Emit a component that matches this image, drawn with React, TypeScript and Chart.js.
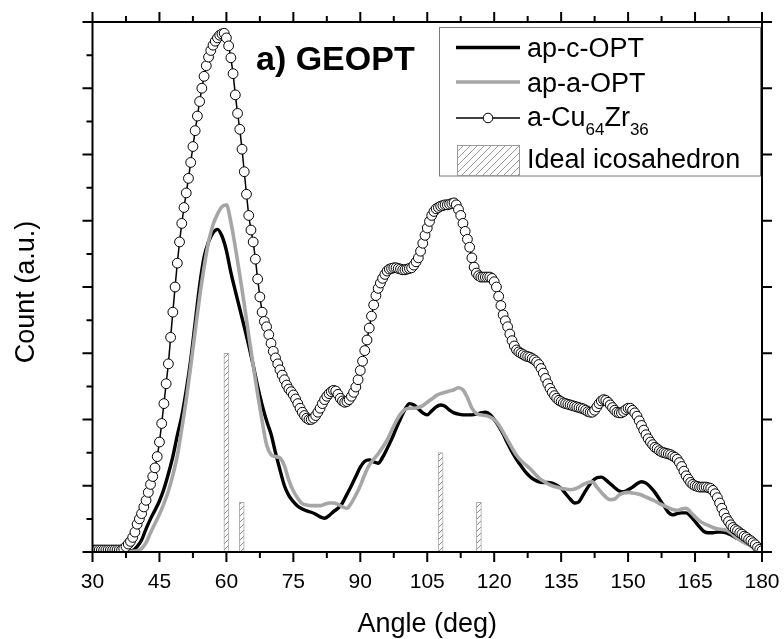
import React, { useEffect, useRef } from "react";
import { Chart, registerables } from "chart.js";

Chart.register(...registerables);

// ---------- data ----------
const ANGLE_START = 30;
const CIRCLE_STEP = 0.5; // a-Cu64Zr36 sampled every 0.5 deg
const LINE_STEP = 1; // ap-c-OPT / ap-a-OPT sampled every 1 deg

const CU64ZR36 = [
  0.03, 0.03, 0.03, 0.03, 0.03, 0.03, 0.03, 0.03, 0.03, 0.03,
  0.03, 0.03, 0.03, 0.03, 0.05, 0.08, 0.12, 0.16, 0.22, 0.30,
  0.42, 0.50, 0.58, 0.68, 0.78, 0.90, 1.02, 1.14, 1.27, 1.44,
  1.66, 1.94, 2.24, 2.54, 2.84, 3.24, 3.62, 4.00, 4.36, 4.68,
  4.96, 5.20, 5.42, 5.64, 5.88, 6.12, 6.36, 6.58, 6.80, 7.00,
  7.18, 7.34, 7.47, 7.57, 7.65, 7.71, 7.76, 7.80, 7.82, 7.83,
  7.76, 7.64, 7.46, 7.22, 6.90, 6.62, 6.38, 6.08, 5.74, 5.40,
  5.08, 4.86, 4.68, 4.42, 4.12, 3.85, 3.62, 3.48, 3.40, 3.28,
  3.15, 3.03, 2.93, 2.84, 2.75, 2.67, 2.60, 2.52, 2.46, 2.42,
  2.37, 2.31, 2.24, 2.17, 2.11, 2.06, 2.02, 2.00, 2.00, 2.02,
  2.06, 2.11, 2.17, 2.24, 2.30, 2.35, 2.39, 2.42, 2.44, 2.43,
  2.38, 2.32, 2.28, 2.26, 2.27, 2.30, 2.35, 2.41, 2.49, 2.60,
  2.74, 2.88, 3.04, 3.20, 3.38, 3.56, 3.73, 3.87, 3.98, 4.06,
  4.13, 4.19, 4.24, 4.27, 4.28, 4.29, 4.29, 4.28, 4.27, 4.26,
  4.26, 4.27, 4.28, 4.29, 4.33, 4.38, 4.44, 4.54, 4.66, 4.78,
  4.89, 4.99, 5.08, 5.14, 5.18, 5.20, 5.22, 5.23, 5.24, 5.24,
  5.25, 5.26, 5.27, 5.24, 5.17, 5.08, 4.96, 4.84, 4.72, 4.60,
  4.44, 4.30, 4.21, 4.17, 4.15, 4.15, 4.15, 4.15, 4.15, 4.13,
  4.08, 4.00, 3.86, 3.72, 3.58, 3.49, 3.40, 3.29, 3.19, 3.11,
  3.05, 3.02, 3.00, 2.98, 2.96, 2.95, 2.94, 2.92, 2.90, 2.87,
  2.83, 2.77, 2.70, 2.62, 2.54, 2.47, 2.41, 2.36, 2.32, 2.29,
  2.27, 2.25, 2.24, 2.23, 2.22, 2.21, 2.20, 2.19, 2.18, 2.17,
  2.16, 2.14, 2.12, 2.11, 2.11, 2.14, 2.19, 2.24, 2.28, 2.30,
  2.29, 2.26, 2.22, 2.18, 2.14, 2.11, 2.10, 2.10, 2.12, 2.15,
  2.17, 2.17, 2.14, 2.10, 2.05, 1.98, 1.91, 1.84, 1.77, 1.71,
  1.66, 1.62, 1.58, 1.56, 1.53, 1.51, 1.50, 1.49, 1.48, 1.47,
  1.45, 1.43, 1.40, 1.35, 1.29, 1.22, 1.15, 1.10, 1.05, 1.02,
  1.00, 0.99, 0.98, 0.98, 0.98, 0.98, 0.97, 0.96, 0.93, 0.88,
  0.82, 0.74, 0.66, 0.58, 0.51, 0.46, 0.41, 0.37, 0.34, 0.32,
  0.29, 0.27, 0.24, 0.22, 0.19, 0.17, 0.14, 0.11, 0.07, 0.04,
  0.02,
];

const AP_C_OPT = [
  0, 0, 0, 0, 0, 0, 0, 0, 0.01, 0.02,
  0.08, 0.18, 0.35, 0.50, 0.63, 0.77, 0.95, 1.18, 1.44, 1.76,
  2.05, 2.44, 2.90, 3.46, 4.02, 4.45, 4.68, 4.82, 4.87, 4.77,
  4.55, 4.22, 3.94, 3.67, 3.40, 3.12, 2.82, 2.50, 2.22, 1.98,
  1.78, 1.50, 1.24, 1.00, 0.85, 0.76, 0.69, 0.65, 0.62, 0.60,
  0.57, 0.53, 0.51, 0.55, 0.61, 0.66, 0.74, 0.87, 1.00, 1.14,
  1.28, 1.37, 1.39, 1.36, 1.34, 1.43, 1.56, 1.70, 1.86, 2.01,
  2.15, 2.24, 2.22, 2.16, 2.10, 2.07, 2.13, 2.19, 2.22, 2.20,
  2.14, 2.10, 2.08, 2.07, 2.07, 2.07, 2.08, 2.10, 2.11, 2.08,
  2.00, 1.90, 1.78, 1.64, 1.51, 1.40, 1.30, 1.21, 1.14, 1.09,
  1.06, 1.05, 1.05, 1.04, 1.01, 0.96, 0.88, 0.80, 0.74, 0.76,
  0.87, 0.98, 1.07, 1.12, 1.13, 1.09, 1.03, 0.97, 0.92, 0.91,
  0.94, 0.98, 1.03, 1.06, 1.04, 0.98, 0.90, 0.80, 0.70, 0.60,
  0.56, 0.58, 0.59, 0.59, 0.54, 0.46, 0.38, 0.31, 0.29, 0.29,
  0.30, 0.30, 0.29, 0.26, 0.22, 0.19, 0.16, 0.13, 0.10, 0.05,
  0.01,
];

const AP_A_OPT = [
  0, 0, 0, 0, 0, 0, 0, 0, 0, 0.01,
  0.02, 0.05, 0.14, 0.29, 0.43, 0.57, 0.73, 0.92, 1.16, 1.45,
  1.86, 2.30, 2.80, 3.33, 3.85, 4.30, 4.68, 4.94, 5.10, 5.21,
  5.24, 4.98, 4.60, 4.18, 3.74, 3.27, 2.82, 2.38, 1.98, 1.62,
  1.47, 1.44, 1.42, 1.30, 1.08, 0.92, 0.81, 0.73, 0.71, 0.70,
  0.70, 0.70, 0.72, 0.74, 0.74, 0.72, 0.68, 0.66, 0.74, 0.86,
  1.00, 1.17, 1.31, 1.40, 1.48, 1.58, 1.69, 1.83, 1.97, 2.08,
  2.15, 2.17, 2.17, 2.18, 2.21, 2.26, 2.31, 2.36, 2.39, 2.41,
  2.43, 2.45, 2.48, 2.45, 2.33, 2.17, 2.09, 2.07, 2.06, 2.04,
  2.00, 1.92, 1.81, 1.69, 1.57, 1.46, 1.38, 1.32, 1.26, 1.19,
  1.12, 1.07, 1.03, 1.00, 0.98, 0.96, 0.95, 0.94, 0.95, 0.98,
  1.02, 1.05, 1.06, 0.98, 0.90, 0.83, 0.79, 0.80, 0.86, 0.89,
  0.90, 0.89, 0.88, 0.86, 0.83, 0.80, 0.77, 0.73, 0.70, 0.67,
  0.64, 0.63, 0.65, 0.66, 0.60, 0.53, 0.47, 0.43, 0.40, 0.37,
  0.35, 0.34, 0.33, 0.29, 0.23, 0.18, 0.14, 0.11, 0.07, 0.04,
  0.01,
];

const ICO_ANGLES = [60, 63.43, 108, 116.57];
const ICO_COUNTS = [3.0, 0.75, 1.5, 0.75];

const X_TICKS = [30, 45, 60, 75, 90, 105, 120, 135, 150, 165, 180];
const X_MIN = 30;
const X_MAX = 180;
const Y_MIN = 0;
const Y_MAX = 8;

const X_TITLE = "Angle (deg)";
const Y_TITLE = "Count (a.u.)";
const PANEL_TITLE = "a) GEOPT";
const LEGEND_1 = "ap-c-OPT";
const LEGEND_2 = "ap-a-OPT";
const LEGEND_3 = [
  { t: "a-Cu", sub: false },
  { t: "64", sub: true },
  { t: "Zr", sub: false },
  { t: "36", sub: true },
];
const LEGEND_4 = "Ideal icosahedron";

// ---------- styling ----------
const FONT = '"Liberation Sans", Arial, Helvetica, sans-serif';
const GRAY = "#a6a6a6";

function toPoints(values: number[], start: number, step: number) {
  return values.map((v, i) => ({ x: start + i * step, y: v }));
}

function makeHatch(size: number, color: string, bg: string) {
  const c = document.createElement("canvas");
  c.width = size;
  c.height = size;
  const g = c.getContext("2d") as CanvasRenderingContext2D;
  g.fillStyle = bg;
  g.fillRect(0, 0, size, size);
  g.strokeStyle = color;
  g.lineWidth = 1;
  g.beginPath();
  g.moveTo(0, size);
  g.lineTo(size, 0);
  g.moveTo(-1, 1);
  g.lineTo(1, -1);
  g.moveTo(size - 1, size + 1);
  g.lineTo(size + 1, size - 1);
  g.stroke();
  return g.createPattern(c, "repeat") as CanvasPattern;
}

const framePlugin = {
  id: "frame",
  afterDatasetsDraw(chart: any) {
    const { ctx, chartArea: a } = chart;
    const xs = chart.scales.x;
    const ys = chart.scales.y;
    ctx.save();
    ctx.strokeStyle = "#000";
    ctx.lineWidth = 2;
    ctx.strokeRect(a.left, a.top, a.right - a.left, a.bottom - a.top);
    ctx.beginPath();
    for (let v = X_MIN; v <= X_MAX + 1e-6; v += 7.5) {
      const px = xs.getPixelForValue(v);
      const major = Math.abs(((v - X_MIN) / 15) - Math.round((v - X_MIN) / 15)) < 1e-6;
      const len = major ? 10 : 6;
      ctx.moveTo(px, a.bottom);
      ctx.lineTo(px, a.bottom + len);
      ctx.moveTo(px, a.top);
      ctx.lineTo(px, a.top - len);
    }
    for (let v = Y_MIN; v <= Y_MAX + 1e-6; v += 0.5) {
      const py = ys.getPixelForValue(v);
      const major = Math.abs(v - Math.round(v)) < 1e-6;
      ctx.moveTo(a.left, py);
      ctx.lineTo(a.left - (major ? 10 : 6), py);
      if (major) {
        ctx.moveTo(a.right, py);
        ctx.lineTo(a.right + 10, py);
      }
    }
    ctx.stroke();
    ctx.restore();
  },
};

const textPlugin = {
  id: "texts",
  afterDraw(chart: any) {
    const { ctx, chartArea: a } = chart;
    ctx.save();
    ctx.fillStyle = "#000";

    // axis titles
    ctx.font = `27px ${FONT}`;
    ctx.textAlign = "center";
    ctx.textBaseline = "alphabetic";
    ctx.fillText(X_TITLE, (a.left + a.right) / 2, 632);
    ctx.save();
    ctx.translate(34, 292);
    ctx.rotate(-Math.PI / 2);
    ctx.fillText(Y_TITLE, 0, 0);
    ctx.restore();

    // panel title
    ctx.font = `bold 34px ${FONT}`;
    ctx.textAlign = "left";
    ctx.fillText(PANEL_TITLE, 256, 70);

    // legend box
    const bx = 439.5, by = 27.5, bw = 321, bh = 148.5;
    ctx.fillStyle = "#fff";
    ctx.fillRect(bx, by, bw, bh);
    ctx.strokeStyle = "#7a7a7a";
    ctx.lineWidth = 1;
    ctx.strokeRect(bx, by, bw, bh);

    const sx0 = 456, sx1 = 520, tx = 527;
    // row 1
    ctx.strokeStyle = "#000";
    ctx.lineWidth = 3.4;
    ctx.beginPath();
    ctx.moveTo(sx0, 47.5);
    ctx.lineTo(sx1, 47.5);
    ctx.stroke();
    // row 2
    ctx.strokeStyle = GRAY;
    ctx.lineWidth = 3.6;
    ctx.beginPath();
    ctx.moveTo(sx0, 82);
    ctx.lineTo(sx1, 82);
    ctx.stroke();
    // row 3
    ctx.strokeStyle = "#000";
    ctx.lineWidth = 1.5;
    ctx.beginPath();
    ctx.moveTo(sx0, 118);
    ctx.lineTo(sx1, 118);
    ctx.stroke();
    ctx.fillStyle = "#fff";
    ctx.lineWidth = 1;
    ctx.beginPath();
    ctx.arc(488, 118, 4.8, 0, Math.PI * 2);
    ctx.fill();
    ctx.stroke();
    // row 4 hatch box
    ctx.fillStyle = makeHatch(7, "#9a9a9a", "#fff");
    ctx.fillRect(457.5, 145.5, 62, 30);
    ctx.strokeStyle = "#9a9a9a";
    ctx.strokeRect(457.5, 145.5, 62, 30);

    ctx.fillStyle = "#000";
    ctx.textAlign = "left";
    ctx.font = `27px ${FONT}`;
    ctx.fillText(LEGEND_1, tx, 57);
    ctx.fillText(LEGEND_2, tx, 92);
    let x = tx;
    for (const part of LEGEND_3) {
      if (part.sub) {
        ctx.font = `17px ${FONT}`;
        ctx.fillText(part.t, x, 135);
      } else {
        ctx.font = `27px ${FONT}`;
        ctx.fillText(part.t, x, 126);
      }
      x += ctx.measureText(part.t).width;
    }
    ctx.font = `27px ${FONT}`;
    ctx.fillText(LEGEND_4, tx, 168);
    ctx.restore();
  },
};

export default function App() {
  const ref = useRef<HTMLCanvasElement | null>(null);

  useEffect(() => {
    const canvas = ref.current;
    if (!canvas) return;
    const barPattern = makeHatch(6, "#8f8f8f", "#fff");

    const chart = new Chart(canvas, {
      type: "line",
      data: {
        datasets: [
          {
            type: "line",
            label: "a-Cu64Zr36",
            data: toPoints(CU64ZR36, ANGLE_START, CIRCLE_STEP),
            borderColor: "#000",
            borderWidth: 1.5,
            pointRadius: 4.9,
            pointBorderWidth: 1,
            pointBorderColor: "#000",
            pointBackgroundColor: "#fff",
            tension: 0,
            order: 0,
          },
          {
            type: "line",
            label: "ap-a-OPT",
            data: toPoints(AP_A_OPT, ANGLE_START, LINE_STEP),
            borderColor: GRAY,
            borderWidth: 3.6,
            pointRadius: 0,
            cubicInterpolationMode: "monotone",
            order: 1,
          },
          {
            type: "line",
            label: "ap-c-OPT",
            data: toPoints(AP_C_OPT, ANGLE_START, LINE_STEP),
            borderColor: "#000",
            borderWidth: 3.4,
            pointRadius: 0,
            cubicInterpolationMode: "monotone",
            order: 2,
          },
          {
            type: "bar",
            label: "Ideal icosahedron",
            data: ICO_ANGLES.map((a, i) => ({ x: a, y: ICO_COUNTS[i] })),
            backgroundColor: barPattern,
            borderColor: "#a8a8a8",
            borderWidth: 1,
            barThickness: 5,
            grouped: false,
            order: 3,
          } as any,
        ],
      },
      options: {
        responsive: false,
        animation: false,
        events: [],
        layout: { padding: { top: 22, right: 22, left: 0, bottom: 0 } },
        plugins: {
          legend: { display: false },
          tooltip: { enabled: false },
          title: { display: false },
        },
        scales: {
          x: {
            type: "linear",
            position: "bottom",
            min: X_MIN,
            max: X_MAX,
            offset: false,
            grid: { display: false, drawTicks: false },
            border: { display: false },
            afterBuildTicks: (s: any) => {
              s.ticks = X_TICKS.map((v) => ({ value: v }));
            },
            afterFit: (s: any) => {
              s.height = 87;
              s.paddingLeft = 0;
              s.paddingRight = 0;
            },
            ticks: {
              autoSkip: false,
              maxRotation: 0,
              padding: 18,
              color: "#000",
              font: { family: FONT, size: 21 },
            },
          },
          y: {
            type: "linear",
            min: Y_MIN,
            max: Y_MAX,
            grid: { display: false, drawTicks: false },
            border: { display: false },
            ticks: { display: false },
            afterFit: (s: any) => {
              s.width = 92.5;
              s.paddingTop = 0;
              s.paddingBottom = 0;
            },
          },
        },
      },
      plugins: [framePlugin, textPlugin],
    } as any);

    return () => chart.destroy();
  }, []);

  return (
    <div style={{ position: "absolute", left: 0, top: 0, width: 784, height: 639, background: "#fff" }}>
      <canvas ref={ref} width={784} height={639} style={{ display: "block", width: 784, height: 639 }} />
    </div>
  );
}
